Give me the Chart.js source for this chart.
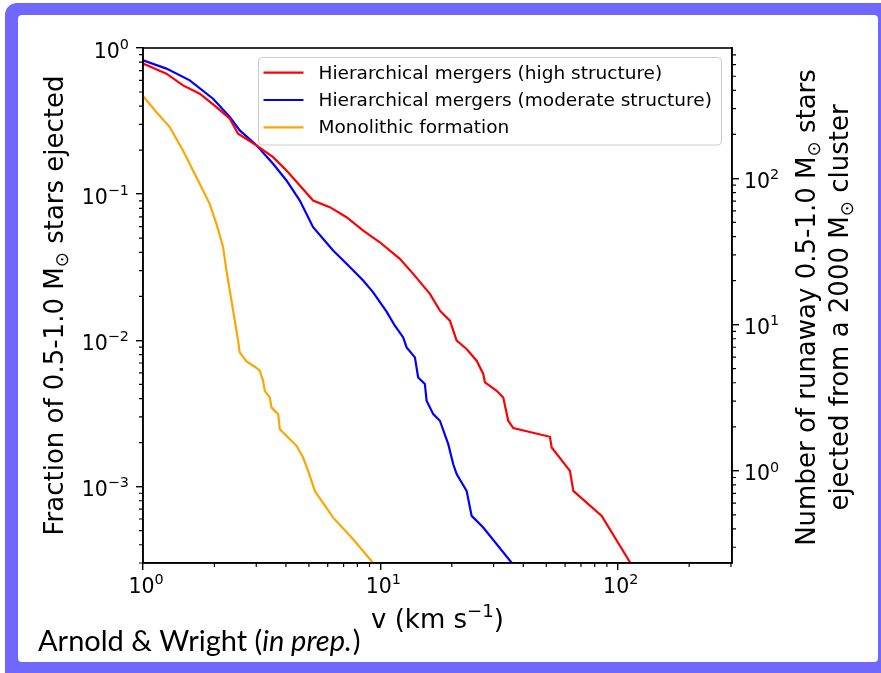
<!DOCTYPE html>
<html>
<head>
<meta charset="utf-8">
<script src="https://cdn.jsdelivr.net/npm/chart.js@4.4.0/dist/chart.umd.min.js"></script>
<style>
html, body { margin: 0; padding: 0; background: #fff; }
</style>
</head>
<body>
<canvas id="myChart" width="881" height="673"></canvas>
<script>
// cumulative fraction of stars ejected faster than v
const vHigh = [1.00, 1.255, 1.474, 1.734, 2.039, 2.321, 2.515, 3.006, 3.532, 4.023, 4.578, 5.208, 6.126, 7.204, 8.465, 9.95, 12.08, 13.75, 16.17, 17.82, 19.63, 20.96, 23.09, 25.44, 27.13, 27.58, 30.9, 32.94, 34.58, 36.3, 51.8, 52.7, 62.9, 65.0, 85.6, 113.2];
const fHigh = [0.782, 0.668, 0.555, 0.487, 0.394, 0.328, 0.259, 0.2157, 0.1792, 0.1453, 0.1147, 0.0905, 0.0815, 0.0696, 0.0564, 0.0469, 0.0361, 0.0285, 0.0208, 0.01597, 0.01364, 0.00995, 0.00873, 0.00726, 0.00589, 0.00516, 0.00452, 0.00407, 0.00282, 0.00251, 0.00219, 0.00185, 0.00128, 0.000934, 0.00063, 0.0003];

const vModerate = [1.00, 1.255, 1.574, 1.973, 2.321, 2.557, 3.006, 3.532, 4.023, 4.578, 5.208, 6.324, 7.204, 8.465, 9.324, 10.62, 11.51, 12.48, 12.9, 13.98, 14.43, 15.4, 15.66, 16.7, 17.82, 19.32, 20.28, 20.96, 23.09, 24.24, 27.13, 35.8];
const fModerate = [0.824, 0.723, 0.601, 0.450, 0.337, 0.273, 0.2157, 0.1615, 0.1241, 0.0905, 0.0594, 0.0412, 0.0334, 0.02564, 0.02132, 0.01572, 0.0126, 0.01048, 0.00895, 0.00765, 0.00558, 0.00503, 0.00386, 0.00313, 0.00282, 0.00195, 0.00142, 0.001216, 0.000934, 0.00063, 0.000524, 0.0003];

const vMono = [1.00, 1.139, 1.296, 1.474, 1.679, 1.910, 2.039, 2.175, 2.247, 2.359, 2.436, 2.515, 2.555, 2.729, 2.958, 3.105, 3.205, 3.259, 3.42, 3.477, 3.709, 3.771, 4.086, 4.433, 4.727, 4.962, 5.296, 6.324, 7.68, 9.324];
const fMono = [0.469, 0.364, 0.2876, 0.1992, 0.1307, 0.0859, 0.0627, 0.0434, 0.030, 0.0187, 0.01364, 0.00995, 0.00827, 0.00718, 0.0066, 0.0062, 0.0053, 0.00452, 0.00407, 0.00348, 0.00313, 0.00247, 0.002166, 0.0019, 0.00158, 0.00128, 0.000934, 0.000613, 0.000436, 0.0003];

const seriesLabels = ['Hierarchical mergers (high structure)', 'Hierarchical mergers (moderate structure)', 'Monolithic formation'];
const seriesColors = ['#ff0000', '#0000ff', '#ffa500'];

// axes (labels written base^exponent)
const xTicks = [1, 10, 100];
const xTickLabels = ['10^0', '10^1', '10^2'];
const yTicks = [0.001, 0.01, 0.1, 1];
const yTickLabels = ['10^−3', '10^−2', '10^−1', '10^0'];
const y2Ticks = [1, 10, 100];
const y2TickLabels = ['10^0', '10^1', '10^2'];
const xMin = 1, xMax = 303;
const yMin = 3e-4, yMax = 1;
const starsPerCluster = 780;   // right axis = fraction * this

const frameColor = '#7067fd';
const FONT = 'DejaVu Sans';
const TICK_SIZE = 20.5;
Chart.defaults.font.family = FONT;

function pts(xs, ys) { return xs.map((x, i) => ({ x: x, y: ys[i] })); }

function setTicks(values) {
    return scale => { scale.ticks = values.map(v => ({ value: v })); };
}

function minorValues(min, max) {
    const out = [];
    for (let e = Math.floor(Math.log10(min)); e <= Math.ceil(Math.log10(max)); e++) {
        for (let m = 2; m <= 9; m++) {
            const v = m * Math.pow(10, e);
            if (v > min && v < max) out.push(v);
        }
    }
    return out;
}

// text with sub/superscript pieces; align = 'center' | 'left' | 'right'
function drawRich(c, parts, size, x, y, align) {
    const fontOf = p => (p.sub || p.sup ? size * 0.7 : size) + 'px "' + FONT + '"';
    let w = 0;
    parts.forEach(p => { c.font = fontOf(p); w += c.measureText(p.t).width; });
    let cx = align === 'left' ? x : (align === 'right' ? x - w : x - w / 2);
    c.textAlign = 'left';
    c.textBaseline = 'alphabetic';
    parts.forEach(p => {
        c.font = fontOf(p);
        const dy = p.sub ? size * 0.2 : (p.sup ? -size * 0.42 : 0);
        c.fillText(p.t, cx, y + dy);
        cx += c.measureText(p.t).width;
    });
}

function powParts(label) {
    const s = label.split('^');
    return [{ t: s[0] }, { t: s[1], sup: true }];
}

const decor = {
    id: 'decor',
    beforeDraw(chart) {
        const c = chart.ctx;
        c.save();
        c.fillStyle = '#ffffff';
        c.fillRect(0, 0, chart.width, chart.height);
        c.fillStyle = frameColor;
        c.beginPath(); c.roundRect(5, 3, 900, 700, 12); c.fill();
        c.fillStyle = '#ffffff';
        c.beginPath(); c.roundRect(18, 15, 860, 647, 4); c.fill();
        c.restore();
    },
    afterDraw(chart) {
        const c = chart.ctx;
        const a = chart.chartArea;
        const sx = chart.scales.x, sy = chart.scales.y, sy2 = chart.scales.y2;
        c.save();
        c.strokeStyle = '#000';
        c.lineWidth = 1.2;
        // minor ticks
        c.beginPath();
        minorValues(sx.min, sx.max).forEach(v => {
            const p = sx.getPixelForValue(v);
            c.moveTo(p, a.bottom); c.lineTo(p, a.bottom + 4);
        });
        minorValues(sy.min, sy.max).forEach(v => {
            const p = sy.getPixelForValue(v);
            c.moveTo(a.left, p); c.lineTo(a.left - 4, p);
        });
        minorValues(sy2.min, sy2.max).forEach(v => {
            const p = sy2.getPixelForValue(v);
            c.moveTo(a.right, p); c.lineTo(a.right + 4, p);
        });
        c.stroke();
        // spines
        c.lineWidth = 1.6;
        c.strokeRect(a.left, a.top, a.right - a.left, a.bottom - a.top);

        // tick labels
        c.fillStyle = '#000';
        xTicks.forEach((v, i) => {
            drawRich(c, powParts(xTickLabels[i]), TICK_SIZE, sx.getPixelForValue(v) + 3, a.bottom + 30, 'center');
        });
        yTicks.forEach((v, i) => {
            drawRich(c, powParts(yTickLabels[i]), TICK_SIZE, a.left - 14, sy.getPixelForValue(v) + 9.5, 'right');
        });
        y2Ticks.forEach((v, i) => {
            drawRich(c, powParts(y2TickLabels[i]), TICK_SIZE, a.right + 12, sy2.getPixelForValue(v) + 9.5, 'left');
        });

        // legend
        const lx = 258.5, ly = 57.5, lw = 463, lh = 87.5;
        c.fillStyle = 'rgba(255,255,255,0.8)';
        c.strokeStyle = '#cccccc';
        c.lineWidth = 1;
        c.beginPath(); c.roundRect(lx, ly, lw, lh, 4); c.fill(); c.stroke();
        c.font = '18.5px "' + FONT + '"';
        c.textAlign = 'left';
        c.textBaseline = 'middle';
        chart.data.datasets.forEach((ds, i) => {
            const yy = 72.7 + i * 27.3;
            c.strokeStyle = ds.borderColor;
            c.lineWidth = 2.2;
            c.beginPath(); c.moveTo(263.5, yy); c.lineTo(303.5, yy); c.stroke();
            c.fillStyle = '#000';
            c.fillText(ds.label, 318.5, yy + 1);
        });

        // axis titles
        c.fillStyle = '#000';
        const midY = (a.top + a.bottom) / 2;
        drawRich(c, [{ t: 'v (km s' }, { t: '−1', sup: true }, { t: ')' }], 26, (a.left + a.right) / 2, 628, 'center');

        c.save();
        c.translate(63, midY);
        c.rotate(-Math.PI / 2);
        drawRich(c, [{ t: 'Fraction of 0.5-1.0 M' }, { t: '⊙', sub: true }, { t: ' stars ejected' }], 26, 0, 0, 'center');
        c.restore();

        c.save();
        c.translate(815, midY + 2);
        c.rotate(-Math.PI / 2);
        drawRich(c, [{ t: 'Number of runaway 0.5-1.0 M' }, { t: '⊙', sub: true }, { t: ' stars' }], 26, 0, 0, 'center');
        drawRich(c, [{ t: 'ejected from a 2000 M' }, { t: '⊙', sub: true }, { t: ' cluster' }], 26, 0, 33, 'center');
        c.restore();

        // credit
        c.textAlign = 'left';
        c.textBaseline = 'alphabetic';
        c.font = '29px Lato';
        let tx = 38;
        c.fillText('Arnold & Wright (', tx, 651);
        tx += c.measureText('Arnold & Wright (').width;
        c.font = 'italic 29px Lato';
        c.fillText('in prep.', tx, 651);
        tx += c.measureText('in prep.').width + 1;
        c.font = '29px Lato';
        c.fillText(')', tx, 651);
        c.restore();
    }
};

const ctx = document.getElementById('myChart').getContext('2d');

const axisCommon = {
    type: 'logarithmic',
    ticks: { display: false, autoSkip: false },
    grid: { drawOnChartArea: false, tickLength: 7, color: '#000', lineWidth: 1.4 },
    border: { display: true, color: '#000', width: 1.6 }
};

new Chart(ctx, {
    type: 'scatter',
    data: {
        datasets: [
            { label: seriesLabels[0], data: pts(vHigh, fHigh), borderColor: seriesColors[0] },
            { label: seriesLabels[1], data: pts(vModerate, fModerate), borderColor: seriesColors[1] },
            { label: seriesLabels[2], data: pts(vMono, fMono), borderColor: seriesColors[2] }
        ].map(d => Object.assign(d, {
            showLine: true,
            borderWidth: 2.2,
            pointRadius: 0,
            pointHoverRadius: 0,
            tension: 0,
            yAxisID: 'y'
        }))
    },
    options: {
        responsive: false,
        animation: false,
        events: [],
        layout: { padding: { left: 0, top: 48, right: 0, bottom: 0 } },
        scales: {
            x: Object.assign({}, axisCommon, {
                min: xMin,
                max: xMax,
                afterBuildTicks: setTicks(xTicks),
                afterFit: scale => { scale.height = 110; }
            }),
            y: Object.assign({}, axisCommon, {
                position: 'left',
                min: yMin,
                max: yMax,
                afterBuildTicks: setTicks(yTicks),
                afterFit: scale => { scale.width = 143; }
            }),
            y2: Object.assign({}, axisCommon, {
                axis: 'y',
                position: 'right',
                min: yMin * starsPerCluster,
                max: yMax * starsPerCluster,
                afterBuildTicks: setTicks(y2Ticks),
                afterFit: scale => { scale.width = 149; }
            })
        },
        plugins: {
            legend: { display: false },
            tooltip: { enabled: false }
        }
    },
    plugins: [decor]
});
</script>
</body>
</html>
